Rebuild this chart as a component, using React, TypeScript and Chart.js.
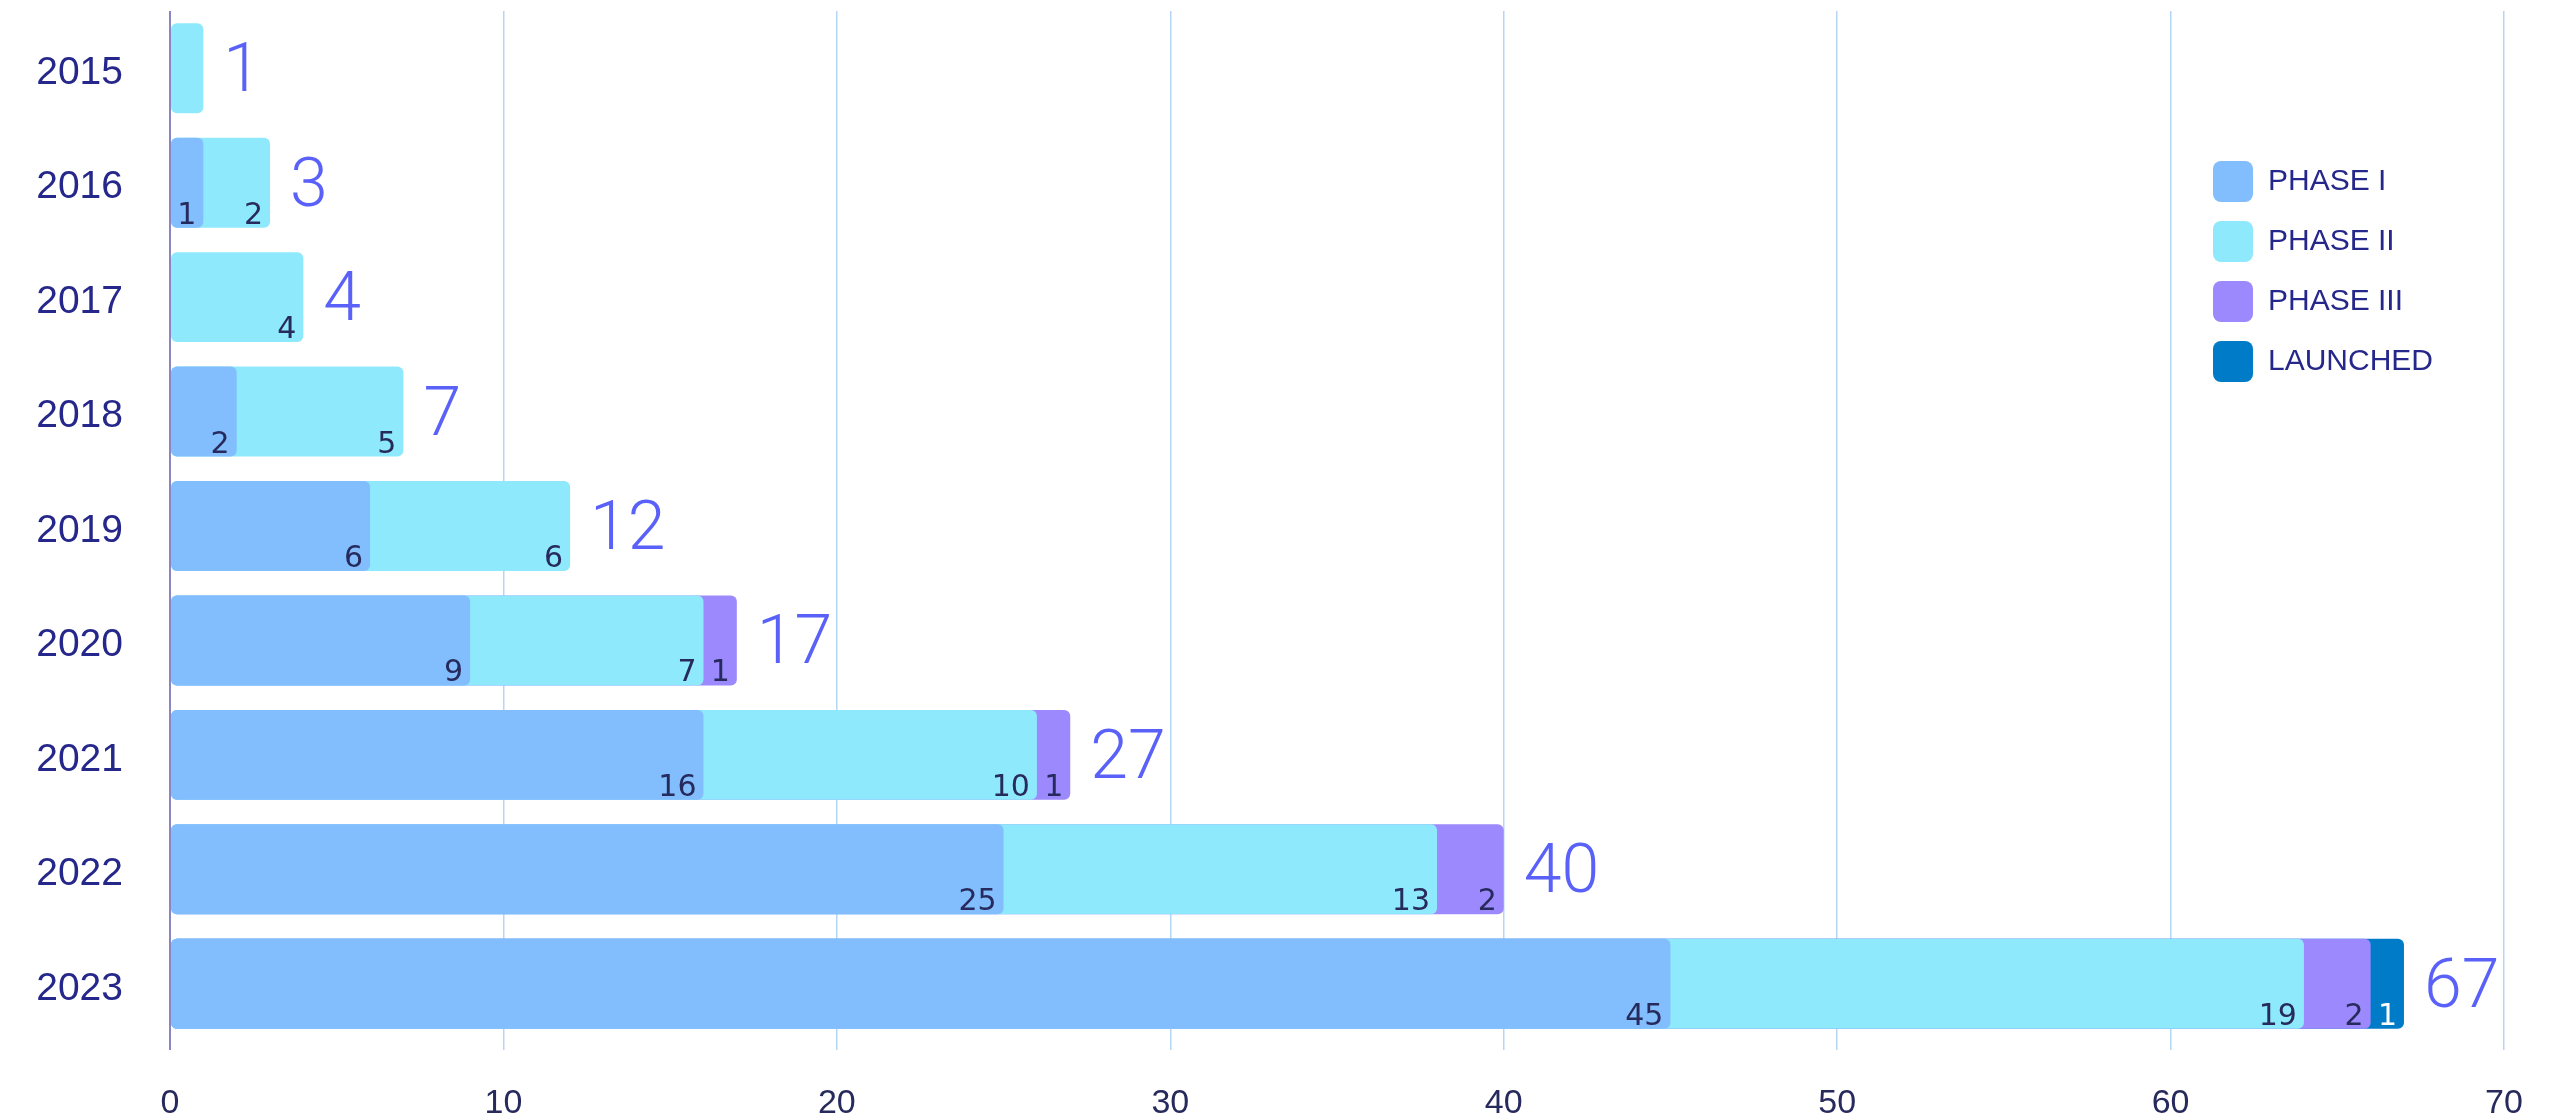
import React, { useEffect, useRef } from 'react';
import { Chart, registerables } from 'chart.js';

Chart.register(...registerables);

// ---- Data ----
const years = ['2015', '2016', '2017', '2018', '2019', '2020', '2021', '2022', '2023'];
const phaseI = [0, 1, 0, 2, 6, 9, 16, 25, 45];
const phaseII = [1, 2, 4, 5, 6, 7, 10, 13, 19];
const phaseIII = [0, 0, 0, 0, 0, 1, 1, 2, 2];
const launched = [0, 0, 0, 0, 0, 0, 0, 0, 1];
const seriesNames = ['PHASE I', 'PHASE II', 'PHASE III', 'LAUNCHED'];
const seriesColors = ['#82bdfe', '#8fe9fd', '#9c89fd', '#007bc7'];
const xTickValues = [0, 10, 20, 30, 40, 50, 60, 70];
const hiddenSegmentLabelYears = ['2015'];

const series = [phaseI, phaseII, phaseIII, launched];
const totals = years.map((_, i) => series.reduce((a, s) => a + s[i], 0));

const NAVY = '#26278a';
const DARK = '#272a5c';
const TOTAL_COLOR = '#5a61f8';

const labelPlugin = {
  id: 'barLabels',
  afterDatasetsDraw(chart: any) {
    const ctx = chart.ctx;
    const xs = chart.scales.x;
    const ys = chart.scales.y;
    ctx.save();
    // segment labels
    series.forEach((vals, s) => {
      const meta = chart.getDatasetMeta(s);
      meta.data.forEach((el: any, i: number) => {
        const v = vals[i];
        if (!v || hiddenSegmentLabelYears.includes(years[i])) return;
        const { x, y, height } = el.getProps(['x', 'y', 'height'], true);
        ctx.font = '30px "DejaVu Sans"';
        ctx.fillStyle = s === 3 ? '#ffffff' : DARK;
        ctx.textAlign = 'right';
        ctx.textBaseline = 'alphabetic';
        ctx.fillText(String(v), x - 7, y + height / 2 - 4);
      });
    });
    // totals
    totals.forEach((t, i) => {
      const x = xs.getPixelForValue(t);
      const y = ys.getPixelForValue(i);
      ctx.font = '300 68px Roboto, "Liberation Sans"';
      ctx.fillStyle = TOTAL_COLOR;
      ctx.textAlign = 'left';
      ctx.textBaseline = 'middle';
      ctx.fillText(String(t), x + 20, y + 6);
    });
    ctx.restore();
  },
};

const legendPlugin = {
  id: 'customLegend',
  afterDraw(chart: any) {
    const ctx = chart.ctx;
    const area = chart.chartArea;
    const bx = area.right - 291;
    const by = area.top + 150;
    ctx.save();
    seriesNames.forEach((name, k) => {
      const top = by + k * 60;
      ctx.fillStyle = seriesColors[k];
      ctx.beginPath();
      (ctx as any).roundRect(bx, top, 40, 41, 8);
      ctx.fill();
      ctx.font = '30px "Liberation Sans"';
      ctx.fillStyle = NAVY;
      ctx.textAlign = 'left';
      ctx.textBaseline = 'middle';
      ctx.fillText(name, bx + 55, top + 21);
    });
    ctx.restore();
  },
};

export default function App() {
  const canvasRef = useRef<HTMLCanvasElement | null>(null);

  useEffect(() => {
    if (!canvasRef.current) return;
    const datasets = series.map((vals, s) => ({
      label: seriesNames[s],
      data: vals.map((v, i) => {
        if (!v) return null;
        let cum = 0;
        for (let k = 0; k <= s; k++) cum += series[k][i];
        return cum;
      }),
      backgroundColor: seriesColors[s],
      borderRadius: 6,
      borderSkipped: false,
      grouped: false,
      barPercentage: 0.786,
      categoryPercentage: 1,
    }));

    const chart = new Chart(canvasRef.current, {
      type: 'bar',
      data: { labels: years, datasets: datasets as any },
      options: {
        indexAxis: 'y',
        animation: false,
        responsive: true,
        maintainAspectRatio: false,
        layout: { padding: { top: 11, right: 60, left: 0, bottom: 0 } },
        plugins: {
          legend: { display: false },
          tooltip: { enabled: false },
        },
        scales: {
          x: {
            type: 'linear',
            min: 0,
            max: 70,
            afterBuildTicks: (scale: any) => {
              scale.ticks = xTickValues.map((v) => ({ value: v }));
            },
            ticks: {
              padding: 33,
              color: DARK,
              font: { family: '"Liberation Sans"', size: 34 },
            },
            grid: {
              color: (c: any) => (c.index === 0 ? '#8a86c6' : '#b6d6f6'),
              lineWidth: (c: any) => (c.index === 0 ? 2 : 1.5),
              tickLength: 9,
              drawTicks: true,
            },
            border: { display: false },
            afterFit: (scale: any) => {
              scale.height = 79;
              scale.paddingLeft = 0;
              scale.paddingRight = 0;
            },
          },
          y: {
            grid: { display: false, drawTicks: false },
            border: { display: false },
            ticks: {
              padding: 47,
              labelOffset: 5,
              color: NAVY,
              font: { family: '"Liberation Sans"', size: 39 },
            },
            afterFit: (scale: any) => {
              scale.width = 170;
              scale.paddingTop = 0;
              scale.paddingBottom = 0;
            },
          },
        },
      },
      plugins: [labelPlugin, legendPlugin],
    });
    return () => chart.destroy();
  }, []);

  return (
    <div style={{ position: 'fixed', left: 0, top: 0, width: '2564px', height: '1120px', background: '#ffffff' }}>
      <canvas ref={canvasRef} />
    </div>
  );
}
